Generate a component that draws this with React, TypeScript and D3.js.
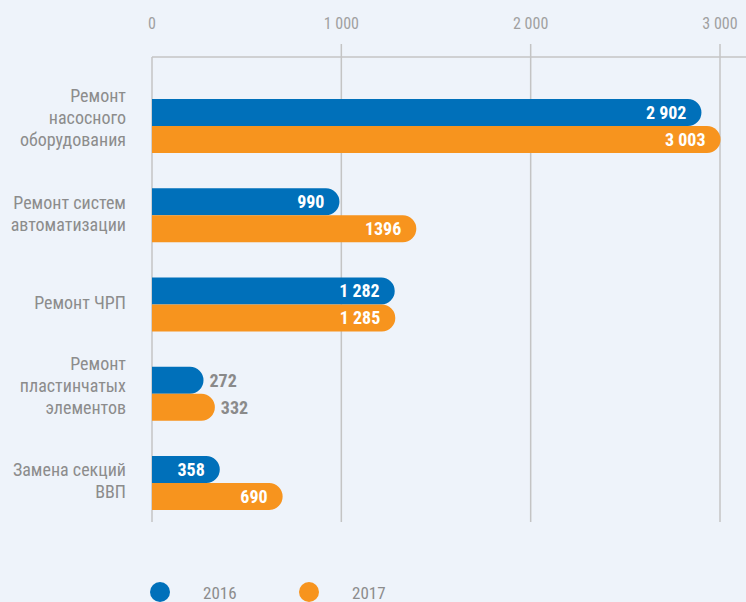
import React from "react";
import * as d3 from "d3";

const WIDTH = 746;
const HEIGHT = 602;

const categories = [
  ["Ремонт", "насосного", "оборудования"],
  ["Ремонт систем", "автоматизации"],
  ["Ремонт ЧРП"],
  ["Ремонт", "пластинчатых", "элементов"],
  ["Замена секций", "ВВП"],
];
const values2016 = [2902, 990, 1282, 272, 358];
const values2017 = [3003, 1396, 1285, 332, 690];
const labels2016 = ["2 902", "990", "1 282", "272", "358"];
const labels2017 = ["3 003", "1396", "1 285", "332", "690"];
const ticks = [0, 1000, 2000, 3000];
const tickLabels = ["0", "1 000", "2 000", "3 000"];
const years = ["2016", "2017"];

const BLUE = "#0070ba";
const ORANGE = "#f7941e";
const GRID = "#c4c4c4";
const TEXT = "#8c8c8c";
const FONT = "'Liberation Sans Narrow', 'Roboto Condensed', 'Arial Narrow', sans-serif";

// bar with a rounded right end
const barPath = (x0: number, x1: number, y: number, h: number) => {
  const r = Math.min(h / 2, Math.max(0, x1 - x0));
  return `M${x0},${y}H${x1 - r}A${r},${r} 0 0 1 ${x1},${y + r}V${y + h - r}A${r},${r} 0 0 1 ${x1 - r},${y + h}H${x0}Z`;
};

export default function App() {
  const xScale = d3.scaleLinear().domain([0, 3000]).range([152, 720]);
  const idx = categories.map((_, i) => String(i));
  const yScale = d3.scaleBand().domain(idx).range([81.4, 527.6]).paddingInner(0.395).paddingOuter(0.1975);
  const sub = d3.scaleBand().domain(years).range([0, yScale.bandwidth()]);
  const h = sub.bandwidth();
  const series = [
    { year: "2016", values: values2016, labels: labels2016, color: BLUE },
    { year: "2017", values: values2017, labels: labels2017, color: ORANGE },
  ];
  const axisY = 57;
  const gridBottom = 522;

  return (
    <svg
      width={WIDTH}
      height={HEIGHT}
      style={{ position: "absolute", left: 0, top: 0 }}
      fontFamily={FONT}
    >
      <rect width={WIDTH} height={HEIGHT} fill="#eef3fa" />
      {/* grid + axis */}
      <line x1={xScale(0)} x2={WIDTH} y1={axisY} y2={axisY} stroke={GRID} strokeWidth={1.5} />
      {ticks.map((t, i) => (
        <g key={t}>
          <line
            x1={xScale(t)}
            x2={xScale(t)}
            y1={t === 0 ? axisY : axisY - 13}
            y2={gridBottom}
            stroke={GRID}
            strokeWidth={1.5}
          />
          <text x={xScale(t)} y={29} textAnchor="middle" fontSize={16} fill="#a0a0a0">
            {tickLabels[i]}
          </text>
        </g>
      ))}
      {/* category labels */}
      {categories.map((lines, i) => {
        const shift = lines.length === 3 ? -8 : -2;
        const cy = (yScale(String(i)) ?? 0) + yScale.bandwidth() / 2 + shift;
        const top = cy - ((lines.length - 1) * 22) / 2;
        return (
          <text key={i} textAnchor="end" fontSize={18} fill={TEXT}>
            {lines.map((l, j) => (
              <tspan key={j} x={126} y={top + j * 22} dy="0.35em">
                {l}
              </tspan>
            ))}
          </text>
        );
      })}
      {/* bars */}
      {series.map((s) => (
        <g key={s.year}>
          {s.values.map((v, i) => {
            const y = (yScale(String(i)) ?? 0) + (sub(s.year) ?? 0);
            const x1 = xScale(v);
            const inside = x1 - xScale(0) > 65;
            return (
              <g key={i}>
                <path d={barPath(xScale(0), x1, y, h)} fill={s.color} />
                <text
                  x={inside ? x1 - 15 : x1 + 6}
                  y={y + h / 2}
                  dy="0.36em"
                  textAnchor={inside ? "end" : "start"}
                  fontSize={18}
                  fontWeight="bold"
                  fill={inside ? "#ffffff" : "#8a8a8a"}
                >
                  {s.labels[i]}
                </text>
              </g>
            );
          })}
        </g>
      ))}
      {/* legend */}
      {series.map((s, i) => (
        <g key={s.year} transform={`translate(${160 + i * 149},592)`}>
          <circle r={10} fill={s.color} />
          <text x={43} dy="0.4em" fontSize={17} fill={TEXT}>
            {s.year}
          </text>
        </g>
      ))}
    </svg>
  );
}
